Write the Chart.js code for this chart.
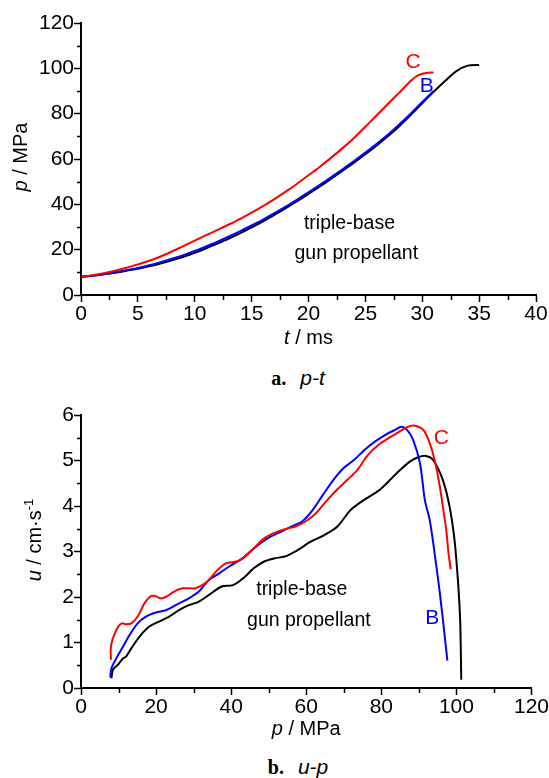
<!DOCTYPE html>
<html><head><meta charset="utf-8">
<script src="https://cdn.jsdelivr.net/npm/chart.js@4.4.1/dist/chart.umd.min.js"></script>
<style>
html,body{margin:0;padding:0;background:#fff;}
#wrap{position:relative;width:549px;height:778px;overflow:hidden;background:#fff;}
canvas{position:absolute;left:0;}
.cap{position:absolute;white-space:nowrap;transform:translate(-50%,-50%);color:#000;line-height:1;}
.cap b{font-family:"Liberation Serif","DejaVu Serif",serif;font-weight:bold;font-size:20px;}
.cap i{font-family:"Liberation Sans",Arial,sans-serif;font-style:italic;font-size:21px;margin-left:14px;}
</style></head><body>
<div id="wrap">
<canvas id="c1" width="549" height="360" style="top:0"></canvas>
<canvas id="c2" width="549" height="360" style="top:390px"></canvas>
<div class="cap" style="left:298px;top:377px"><b>a.</b><i>p-t</i></div>
<div class="cap" style="left:298px;top:766px"><b>b.</b><i>u-p</i></div>
</div>
<script>
// ---------- chart a: p-t ----------
const tA = [0,1,2,3,4,5,6,7,8,9,10,11,12,13,14,15,16,17,18,19,20,21,22,23,24,25,26,27,28,29,30,31,32,33,34,35];
const pA = [8.0,8.5,9.1,9.8,10.7,11.6,12.7,13.9,15.3,16.8,18.6,20.6,22.7,24.9,27.3,29.8,32.5,35.3,38.3,41.4,44.6,47.9,51.3,54.8,58.4,62.1,66.0,70.1,74.6,79.5,84.6,89.6,94.4,98.8,101.2,101.5];
const tB = [0,1,2,3,4,5,6,7,8,9,10,11,12,13,14,15,16,17,18,19,20,21,22,23,24,25,26,27,28,29,30,31];
const pB = [8.0,8.5,9.2,10.0,10.9,11.9,13.1,14.5,16.0,17.6,19.4,21.4,23.5,25.8,28.2,30.7,33.3,36.1,39.0,42.1,45.3,48.6,52.0,55.5,59.1,62.8,66.7,70.8,75.3,80.1,85.2,90.0];
const tC = [0,1,2,3,4,5,6,7,8,9,10,11,12,13,14,15,16,17,18,19,20,21,22,23,24,25,26,27,28,29,29.5,30,30.5,31];
const pC = [8.0,8.7,9.6,10.7,12.0,13.5,15.1,17.0,19.2,21.6,24.0,26.4,28.7,31.1,33.6,36.3,39.2,42.3,45.6,49.1,52.8,56.6,60.6,64.8,69.3,74.2,79.3,84.4,89.4,94.5,96.5,97.6,98.1,98.2];
const tTicks = {min:0, max:40, major:5, minor:2.5};
const pTicks = {min:0, max:120, major:20, minor:10};

// ---------- chart b: u-p ----------
const pA2 = [8.1,8.5,9.8,11.2,12.0,13.4,15.6,18.2,20.8,23.5,26.1,28.7,31.4,34.0,37.5,40.5,43.2,46.0,48.8,51.6,54.3,57.5,61.3,64.8,68.3,71.8,75.3,79.5,84.1,87.5,89.8,91.9,93.8,96.4,98.2,99.5,100.4,101.0,101.3];
const uA2 = [0.21,0.40,0.51,0.65,0.69,0.87,1.13,1.35,1.46,1.57,1.71,1.82,1.90,2.04,2.23,2.26,2.41,2.63,2.78,2.85,2.89,3.02,3.22,3.36,3.55,3.91,4.13,4.35,4.72,4.97,5.07,5.10,5.01,4.57,3.98,3.25,2.37,1.49,0.18];
const pB2 = [7.8,8.1,9.4,11.2,12.9,15.1,17.3,20.0,22.6,25.2,28.7,31.4,34.0,36.8,39.5,42.3,45.1,47.8,50.6,53.4,56.1,58.9,61.7,64.4,67.2,69.9,72.7,75.5,78.2,81.0,83.8,85.3,86.8,88.5,90.3,91.6,92.9,94.2,95.6,96.9,97.6];
const uB2 = [0.23,0.43,0.65,0.91,1.16,1.42,1.57,1.66,1.71,1.82,1.97,2.12,2.37,2.52,2.67,2.81,3.00,3.18,3.33,3.44,3.55,3.66,3.91,4.24,4.57,4.83,5.01,5.23,5.41,5.56,5.68,5.74,5.68,5.45,4.94,4.13,3.69,2.96,2.08,1.13,0.60];
const pC2 = [8.0,7.9,8.1,9.0,10.0,10.9,12.0,13.4,15.1,16.9,18.6,19.8,21.2,22.6,24.8,27.0,30.5,32.3,34.0,36.3,38.6,41.4,43.2,46.0,48.8,51.5,54.3,57.1,59.8,62.6,65.3,68.1,70.9,73.6,76.4,79.2,81.9,84.7,87.0,88.7,91.2,92.9,94.2,95.6,96.4,97.3,97.9,98.5];
const uC2 = [0.62,0.80,0.98,1.20,1.36,1.42,1.40,1.42,1.57,1.86,2.02,2.02,1.97,2.00,2.12,2.19,2.19,2.26,2.37,2.59,2.74,2.78,2.85,3.07,3.29,3.41,3.49,3.55,3.66,3.84,4.10,4.35,4.57,4.79,5.12,5.34,5.49,5.63,5.74,5.77,5.67,5.38,5.01,4.42,3.98,3.47,2.96,2.61];
const p2Ticks = {min:0, max:120, major:20, minor:10};
const uTicks = {min:0, max:6, major:1, minor:0.5};

// ---------- text labels (data coordinates) ----------
const labelsA = [
  {text:'C', x:29.2, y:103.5, color:'#ff0000'},
  {text:'B', x:30.4, y:92.8, color:'#0000ff'},
  {text:'triple-base', x:23.6, y:32.3, color:'#000'},
  {text:'gun propellant', x:24.2, y:19.1, color:'#000'}
];
const labelsB = [
  {text:'C', x:96.0, y:5.53, color:'#ff0000'},
  {text:'B', x:93.6, y:1.58, color:'#0000ff'},
  {text:'triple-base', x:58.8, y:2.19, color:'#000'},
  {text:'gun propellant', x:60.7, y:1.52, color:'#000'}
];

const SANS = '"Liberation Sans",Arial,sans-serif';
const NARROW = '"Liberation Sans Narrow","Liberation Sans",Arial,sans-serif';
const tickFont = {family: NARROW, size: 21};

function pts(xs, ys){ return xs.map((x,i)=>({x:x, y:ys[i]})); }

function richText(ctx, parts, cx, cy, rot){
  ctx.save();
  ctx.translate(cx, cy);
  if (rot) ctx.rotate(rot);
  ctx.textBaseline = 'alphabetic';
  let w = 0;
  for (const p of parts){ ctx.font = p.font; w += ctx.measureText(p.t).width; }
  let x = -w/2;
  for (const p of parts){
    ctx.font = p.font; ctx.fillStyle = p.color || '#000';
    ctx.fillText(p.t, x, p.dy || 0);
    x += ctx.measureText(p.t).width;
  }
  ctx.restore();
}

const decor = {
  id: 'decor',
  afterDraw(chart, args, opts){
    const ctx = chart.ctx, ca = chart.chartArea;
    // minor ticks
    ctx.save();
    ctx.strokeStyle = '#000'; ctx.lineWidth = 1.5;
    for (const id of ['x','y']){
      const s = chart.scales[id], cfg = opts.minor[id];
      for (let v = cfg.min; v <= cfg.max + 1e-9; v += cfg.minor){
        const r = v / cfg.major;
        if (Math.abs(r - Math.round(r)) < 1e-6) continue;
        const px = Math.round(s.getPixelForValue(v)) + 0.5;
        ctx.beginPath();
        if (id === 'x'){ ctx.moveTo(px, ca.bottom); ctx.lineTo(px, ca.bottom + 5); }
        else { ctx.moveTo(ca.left, px); ctx.lineTo(ca.left - 4, px); }
        ctx.stroke();
      }
    }
    ctx.restore();
    // labels in the plot
    const xs = chart.scales.x, ys = chart.scales.y;
    for (const L of opts.labels){
      const isLetter = L.text.length === 1;
      const fs = isLetter ? 21 : 19.5;
      richText(ctx, [{t:L.text, font: fs + 'px ' + SANS, color:L.color}],
        xs.getPixelForValue(L.x), ys.getPixelForValue(L.y) + fs*0.36, 0);
    }
    // axis titles
    const midX = (ca.left + ca.right)/2, midY = (ca.top + ca.bottom)/2;
    const f = 20, reg = f + 'px ' + NARROW, ital = 'italic ' + f + 'px ' + NARROW;
    const tx = opts.xTitle.map(p => ({t:p.t, font: p.sup ? '13px ' + NARROW : (p.it ? ital : reg), dy: p.sup ? -8 : 0}));
    const ty = opts.yTitle.map(p => ({t:p.t, font: p.sup ? '13px ' + NARROW : (p.it ? ital : reg), dy: p.sup ? -8 : 0}));
    richText(ctx, tx, midX, ca.bottom + opts.xTitleOff + f*0.36, 0);
    richText(ctx, ty, opts.yTitleX + f*0.36, opts.yTitleY, -Math.PI/2);
  }
};

function axis(tk, fitKey, fitVal){
  return {
    type: 'linear', min: tk.min, max: tk.max,
    grid: {display:true, drawOnChartArea:false, drawTicks:true, tickLength:7, tickColor:'#000', tickWidth:1.5},
    border: {display:true, color:'#000', width:2},
    ticks: {stepSize: tk.major, color:'#000', font: tickFont, padding: 0, maxRotation:0, autoSkip:false},
    afterFit: s => { s[fitKey] = fitVal; }
  };
}

function lineDS(data, color, order){
  return {data: data, borderColor: color, borderWidth: 2, pointRadius: 0, tension: 0.3, fill: false, order: order};
}

Chart.defaults.font.family = NARROW;

new Chart(document.getElementById('c1'), {
  type: 'line',
  data: { datasets: [
    lineDS(pts(tA, pA), '#000000', 3),
    lineDS(pts(tB, pB), '#0000ff', 2),
    lineDS(pts(tC, pC), '#ff0000', 1)
  ]},
  options: {
    responsive:false, animation:false, devicePixelRatio:1, events:[],
    layout: {padding: {left:0, right:13, top:23, bottom:0}},
    scales: { x: axis(tTicks, 'height', 65), y: axis(pTicks, 'width', 81) },
    plugins: {
      legend:{display:false}, tooltip:{enabled:false},
      decor: {
        minor: {x: tTicks, y: pTicks}, labels: labelsA,
        xTitle: [{t:'t', it:true},{t:' / ms'}], xTitleOff: 42,
        yTitle: [{t:'p', it:true},{t:' / MPa'}], yTitleX: 19.5, yTitleY: 157
      }
    }
  },
  plugins: [decor]
});

new Chart(document.getElementById('c2'), {
  type: 'line',
  data: { datasets: [
    lineDS(pts(pA2, uA2), '#000000', 3),
    lineDS(pts(pB2, uB2), '#0000ff', 2),
    lineDS(pts(pC2, uC2), '#ff0000', 1)
  ]},
  options: {
    responsive:false, animation:false, devicePixelRatio:1, events:[],
    layout: {padding: {left:0, right:13, top:25, bottom:0}},
    scales: { x: axis(p2Ticks, 'height', 62), y: axis(uTicks, 'width', 81) },
    plugins: {
      legend:{display:false}, tooltip:{enabled:false},
      decor: {
        minor: {x: p2Ticks, y: uTicks}, labels: labelsB,
        xTitle: [{t:'p', it:true},{t:' / MPa'}], xTitleOff: 40,
        yTitle: [{t:'u', it:true},{t:' / cm·s'},{t:'-1', sup:true}], yTitleX: 34, yTitleY: 150
      }
    }
  },
  plugins: [decor]
});
</script>
</body></html>
